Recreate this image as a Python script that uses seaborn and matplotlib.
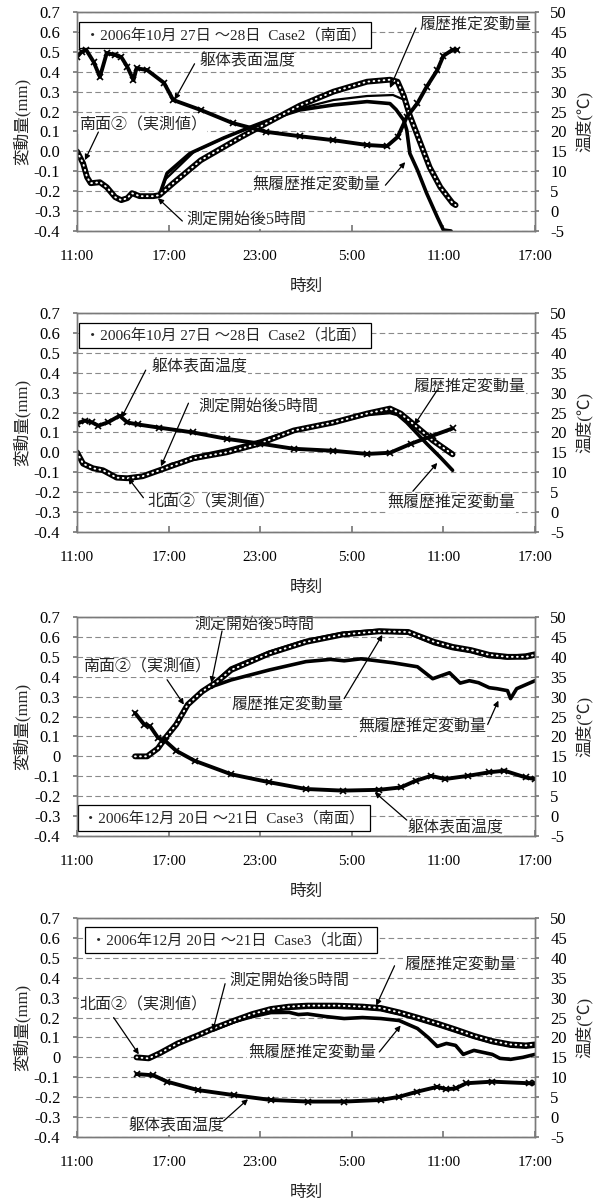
import numpy as np
import pandas as pd
import matplotlib
matplotlib.use("Agg")
import matplotlib.pyplot as plt
import seaborn as sns

sns.set_theme(style="white")
plt.rcParams['font.family'] = ['Liberation Serif', 'Noto Sans CJK JP', 'DejaVu Sans']
plt.rcParams['axes.unicode_minus'] = False

# ---------------- common axes data ----------------
X_TICKS = [0, 6, 12, 18, 24, 30]                       # hours after 11:00
X_TICK_LABELS = ["11:00", "17:00", "23:00", "5:00", "11:00", "17:00"]
Y_LEFT_TICKS = [0.7, 0.6, 0.5, 0.4, 0.3, 0.2, 0.1, 0.0, -0.1, -0.2, -0.3, -0.4]
Y_LEFT_LABELS_A = ["0.7", "0.6", "0.5", "0.4", "0.3", "0.2", "0.1", "0.0", "-0.1", "-0.2", "-0.3", "-0.4"]
Y_LEFT_LABELS_B = ["0.7", "0.6", "0.5", "0.4", "0.3", "0.2", "0.1", "0", "-0.1", "-0.2", "-0.3", "-0.4"]
Y_RIGHT_TICKS = [50, 45, 40, 35, 30, 25, 20, 15, 10, 5, 0, -5]
Y_RIGHT_LABELS = ["50", "45", "40", "35", "30", "25", "20", "15", "10", "5", "0", "-5"]

# ---------------- Panel 1 : 2006/10/27-28 Case2 south ----------------
p1_meas_h = [0, 0.4, 0.66, 0.9, 1.5, 1.95, 2.5, 2.9, 3.3, 3.6, 4.1, 5.0, 5.4, 6.3, 8.1, 10.7, 12.8,
             14.6, 16.8, 19.0, 20.5, 21.0, 21.4, 21.8, 22.5, 23.1, 23.8, 24.6, 24.8]
p1_meas_v = [0.0, -0.06, -0.13, -0.16, -0.155, -0.18, -0.23, -0.245, -0.235, -0.21, -0.225, -0.225, -0.22,
             -0.16, -0.045, 0.07, 0.157, 0.23, 0.30, 0.35, 0.36, 0.35, 0.28, 0.18, 0.04, -0.08, -0.18, -0.26, -0.27]
p1_hist_h = [5.4, 5.8, 7.7, 10.0, 12.5, 14.6, 16.8, 19.0, 20.7, 21.4, 22.0, 22.5, 23.1, 23.8, 24.6]
p1_hist_v = [-0.22, -0.14, 0.0, 0.08, 0.15, 0.215, 0.258, 0.278, 0.283, 0.26, 0.15, 0.04, -0.08, -0.18, -0.26]
p1_nohist_h = [5.4, 5.9, 7.4, 9.6, 11.3, 13.0, 14.6, 16.8, 19.0, 20.5, 20.9, 21.4, 21.6, 21.8, 22.3,
               22.9, 23.6, 24.0, 24.5]
p1_nohist_v = [-0.22, -0.11, -0.01, 0.067, 0.12, 0.17, 0.208, 0.233, 0.25, 0.24, 0.21, 0.157, 0.107, -0.01,
               -0.094, -0.21, -0.33, -0.395, -0.4]
p1_temp_h = [0, 0.3, 0.6, 1.1, 1.5, 1.95, 2.5, 2.9, 3.3, 3.7, 3.9, 4.6, 5.7, 6.3, 8.1, 10.2, 12.4, 14.6,
             16.8, 19.0, 20.3, 21.0, 21.6, 22.3, 22.9, 23.6, 24.0, 24.6, 24.9]
p1_temp_t = [38.7, 40.0, 40.5, 37.4, 33.7, 39.7, 39.2, 38.7, 36.2, 32.9, 35.9, 35.4, 32.2, 27.9, 25.4, 22.1,
             19.9, 18.8, 17.8, 16.6, 16.3, 18.6, 23.6, 27.1, 31.2, 35.4, 39.0, 40.5, 40.5]

# ---------------- Panel 2 : 2006/10/27-28 Case2 north ----------------
p2_meas_h = [0, 0.4, 1.05, 1.7, 2.6, 3.3, 4.3, 5.4, 7.6, 9.8, 12.0, 14.2, 16.8, 19.0, 20.5, 21.2, 22.3, 23.3, 24.6]
p2_meas_v = [0.0, -0.057, -0.08, -0.09, -0.127, -0.13, -0.12, -0.09, -0.03, 0.0, 0.045, 0.11, 0.15, 0.195,
             0.22, 0.195, 0.125, 0.06, -0.01]
p2_hist_h = [5.4, 7.6, 9.8, 12.0, 14.2, 16.8, 19.0, 20.5, 21.2, 22.3, 23.3, 24.6]
p2_hist_v = [-0.09, -0.02, 0.015, 0.06, 0.115, 0.155, 0.198, 0.215, 0.2, 0.13, 0.065, 0.0]
p2_nohist_h = [5.4, 6.2, 7.6, 9.8, 12.0, 14.2, 16.8, 19.0, 20.5, 21.0, 21.6, 22.9, 23.8, 24.6]
p2_nohist_v = [-0.09, -0.06, -0.035, 0.005, 0.05, 0.11, 0.15, 0.19, 0.2, 0.19, 0.15, 0.044, -0.025, -0.09]
p2_temp_h = [0, 0.5, 1.0, 1.4, 2.0, 2.8, 3.3, 4.0, 5.4, 7.6, 9.8, 12.0, 14.2, 16.8, 19.0, 20.5, 21.9, 23.3, 24.6]
p2_temp_t = [22.2, 23.0, 22.5, 21.7, 22.5, 24.2, 22.5, 22.0, 21.2, 20.0, 18.4, 17.2, 15.9, 15.4, 14.6, 14.9,
             17.2, 19.2, 21.0]

# ---------------- Panel 3 : 2006/12/20-21 Case3 south ----------------
p3_meas_h = [3.8, 4.6, 5.3, 5.8, 6.5, 7.25, 8.2, 9.2, 10.1, 12.6, 15.0, 17.4, 19.8, 21.7, 22.2, 23.4, 24.6,
             25.8, 27.0, 28.2, 29.4, 30.0]
p3_meas_v = [0.0, 0.0, 0.04, 0.094, 0.16, 0.26, 0.326, 0.376, 0.434, 0.517, 0.575, 0.612, 0.628, 0.625, 0.61,
             0.575, 0.55, 0.534, 0.51, 0.5, 0.5, 0.51]
p3_hist_h = [8.8, 10.1, 12.6, 15.0, 17.4, 19.8, 21.7, 23.4, 24.6, 25.8, 27.0, 28.2, 29.4, 30.0]
p3_hist_v = [0.35, 0.44, 0.52, 0.578, 0.615, 0.63, 0.623, 0.57, 0.545, 0.53, 0.505, 0.498, 0.505, 0.515]
p3_nohist_h = [8.8, 9.2, 10.1, 12.6, 15.0, 16.6, 17.5, 18.6, 20.7, 22.3, 23.3, 24.4, 25.1, 25.7, 26.3, 27.0,
               27.5, 28.2, 28.4, 28.8, 29.4, 30.0]
p3_nohist_v = [0.35, 0.36, 0.384, 0.434, 0.476, 0.487, 0.48, 0.49, 0.47, 0.45, 0.39, 0.42, 0.368, 0.38, 0.37,
               0.345, 0.34, 0.33, 0.29, 0.34, 0.36, 0.38]
p3_temp_h = [3.8, 4.4, 4.8, 5.3, 5.8, 6.5, 7.7, 10.1, 12.6, 15.0, 17.4, 19.8, 21.2, 22.2, 23.2, 24.1, 25.6,
             27.0, 28.0, 29.4, 30.0]
p3_temp_t = [25.9, 23.0, 22.5, 19.7, 18.8, 16.4, 13.9, 10.5, 8.5, 6.8, 6.4, 6.6, 7.2, 8.9, 10.1, 9.3, 10.1,
             11.0, 11.4, 9.7, 9.3]

# ---------------- Panel 4 : 2006/12/20-21 Case3 north ----------------
p4_meas_h = [3.9, 4.7, 5.4, 6.6, 7.9, 9.1, 10.3, 11.5, 12.7, 13.9, 15.1, 17.0, 18.7, 19.9, 21.1, 22.3, 23.6,
             24.8, 26.0, 27.2, 28.4, 29.4, 30.0]
p4_meas_v = [0.0, -0.005, 0.02, 0.07, 0.11, 0.15, 0.185, 0.218, 0.243, 0.255, 0.26, 0.26, 0.255, 0.248,
             0.226, 0.2, 0.17, 0.14, 0.108, 0.082, 0.065, 0.06, 0.065]
p4_hist_h = [8.9, 10.3, 11.5, 12.7, 13.9, 15.1, 17.0, 18.7, 19.9, 21.1, 22.3, 23.6, 24.8, 26.0, 27.2, 28.4,
             29.4, 30.0]
p4_hist_v = [0.14, 0.183, 0.215, 0.24, 0.25, 0.255, 0.255, 0.25, 0.243, 0.222, 0.195, 0.165, 0.135, 0.104,
             0.078, 0.06, 0.055, 0.06]
p4_nohist_h = [8.9, 10.3, 11.5, 12.7, 13.9, 14.5, 15.1, 16.3, 17.5, 18.7, 19.9, 21.1, 22.3, 23.0, 23.6,
               24.2, 24.8, 25.3, 26.0, 27.2, 27.7, 28.4, 29.2, 30.0]
p4_nohist_v = [0.14, 0.18, 0.205, 0.225, 0.226, 0.215, 0.218, 0.205, 0.195, 0.2, 0.195, 0.185, 0.145, 0.1,
               0.055, 0.07, 0.06, 0.015, 0.035, 0.015, -0.005, -0.01, 0.0, 0.015]
p4_temp_h = [3.9, 5.0, 5.9, 7.9, 10.3, 12.7, 15.1, 17.5, 19.9, 21.1, 22.3, 23.6, 24.2, 24.8, 25.5, 27.2,
             29.6, 30.0]
p4_temp_t = [10.8, 10.5, 8.9, 6.8, 5.5, 4.3, 3.9, 3.9, 4.3, 5.1, 6.4, 7.6, 7.0, 7.2, 8.5, 8.9, 8.5, 8.5]

# ---------------- texts ----------------
BOX_TEXTS = ["・2006年10月 27日 ～28日  Case2（南面）",
             "・2006年10月 27日 ～28日  Case2（北面）",
             "・2006年12月 20日 ～21日  Case3（南面）",
             "・2006年12月 20日 ～21日  Case3（北面）"]
LBL_TEMP = "躯体表面温度"
LBL_HIST = "履歴推定変動量"
LBL_NOHIST = "無履歴推定変動量"
LBL_5H = "測定開始後5時間"
LBL_MEAS_S = "南面②（実測値）"
LBL_MEAS_N = "北面②（実測値）"

# (text, text_pos(h,v), arrow tail(h,v), arrow tip(h,v))
ANNOTS = [
    [(LBL_TEMP, (11.2, 0.45), (7.7, 0.44), (6.4, 0.26)),
     (LBL_MEAS_S, (4.3, 0.132), (1.4, 0.097), (0.52, -0.044)),
     (LBL_HIST, (26.1, 0.635), (22.2, 0.62), (20.5, 0.318)),
     (LBL_NOHIST, (15.7, -0.17), (20.2, -0.17), (21.5, -0.054)),
     (LBL_5H, (11.1, -0.345), (6.9, -0.35), (5.3, -0.235))],
    [(LBL_TEMP, (8.0, 0.427), (4.5, 0.413), (2.9, 0.172)),
     (LBL_5H, (11.9, 0.227), (7.3, 0.247), (5.5, -0.07)),
     (LBL_MEAS_N, (8.8, -0.253), (4.35, -0.228), (3.35, -0.128)),
     (LBL_HIST, (25.7, 0.33), (23.6, 0.313), (22.1, 0.138)),
     (LBL_NOHIST, (24.5, -0.26), (22.0, -0.195), (23.6, -0.053))],
    [(LBL_5H, (11.6, 0.66), (9.5, 0.63), (8.8, 0.37)),
     (LBL_MEAS_S, (4.6, 0.445), (5.9, 0.385), (7.0, 0.26)),
     (LBL_HIST, (13.8, 0.26), (17.5, 0.29), (20.0, 0.61)),
     (LBL_NOHIST, (22.6, 0.143), (26.9, 0.16), (27.6, 0.28)),
     (LBL_TEMP, (24.8, -0.363), (21.6, -0.32), (19.5, -0.18))],
    [(LBL_HIST, (25.1, 0.467), (20.8, 0.46), (19.6, 0.26)),
     (LBL_5H, (13.9, 0.384), (9.7, 0.37), (8.9, 0.135)),
     (LBL_MEAS_N, (4.35, 0.26), (2.4, 0.2), (4.05, 0.015)),
     (LBL_NOHIST, (15.4, 0.019), (19.8, 0.027), (21.2, 0.16)),
     (LBL_TEMP, (6.5, -0.347), (9.6, -0.32), (11.2, -0.21))],
]
BOX_POS = [(0.5, 0.585), (0.5, 0.588), (0.4, -0.31), (0.9, 0.59)]

PANELS = [
    (p1_meas_h, p1_meas_v, p1_hist_h, p1_hist_v, p1_nohist_h, p1_nohist_v, p1_temp_h, p1_temp_t, Y_LEFT_LABELS_A),
    (p2_meas_h, p2_meas_v, p2_hist_h, p2_hist_v, p2_nohist_h, p2_nohist_v, p2_temp_h, p2_temp_t, Y_LEFT_LABELS_A),
    (p3_meas_h, p3_meas_v, p3_hist_h, p3_hist_v, p3_nohist_h, p3_nohist_v, p3_temp_h, p3_temp_t, Y_LEFT_LABELS_B),
    (p4_meas_h, p4_meas_v, p4_hist_h, p4_hist_v, p4_nohist_h, p4_nohist_v, p4_temp_h, p4_temp_t, Y_LEFT_LABELS_B),
]

# axes placement (figure fractions)
AX_LEFT = 77 / 596
AX_WIDTH = 458 / 596
AX_HEIGHT = 219 / 1200
AX_BOTTOMS = [1 - 231 / 1200, 1 - 532 / 1200, 1 - 836 / 1200, 1 - 1137 / 1200]

FRAME = '#7a7a7a'

fig = plt.figure(figsize=(5.96, 12.0), dpi=100)
fig.patch.set_facecolor('white')


def line(ax, h, v, **kw):
    df = pd.DataFrame({'h': h, 'v': v})
    sns.lineplot(data=df, x='h', y='v', ax=ax, estimator=None, sort=False, **kw)


for i, (mh, mv, hh, hv, nh, nv, th, tt, ylabels) in enumerate(PANELS):
    ax = fig.add_axes([AX_LEFT, AX_BOTTOMS[i], AX_WIDTH, AX_HEIGHT])
    ax2 = ax.twinx()

    # estimated curves
    line(ax, nh, nv, color='black', lw=2.6, solid_capstyle='round', solid_joinstyle='round')
    line(ax, hh, hv, color='black', lw=1.6 if i < 2 else 3.6, solid_capstyle='round')
    # measured (open circle look)
    line(ax, mh, mv, color='black', lw=4.2, solid_capstyle='round', solid_joinstyle='round')
    line(ax, mh, mv, color='white', lw=1.4, linestyle=(0, (0.4, 2.2)), dash_capstyle='round')
    # temperature on the right axis
    line(ax2, th, tt, color='black', lw=2.8, marker='x', markersize=5, markeredgewidth=1.2,
         markeredgecolor='black', solid_joinstyle='round')

    ax.set_xlim(0, 30)
    ax.set_ylim(-0.4, 0.7)
    ax2.set_ylim(-5, 50)
    ax.set_xticks(X_TICKS)
    ax.set_xticklabels(X_TICK_LABELS)
    ax.set_yticks(Y_LEFT_TICKS)
    ax.set_yticklabels(ylabels)
    ax2.set_yticks(Y_RIGHT_TICKS)
    ax2.set_yticklabels(Y_RIGHT_LABELS)

    ax.yaxis.grid(True, linestyle=(0, (5, 3)), color='#8a8a8a', lw=0.8)
    ax.xaxis.grid(False)
    ax2.grid(False)
    ax.set_axisbelow(True)

    for a in (ax, ax2):
        for s in a.spines.values():
            s.set_visible(True)
            s.set_color(FRAME)
            s.set_linewidth(1.0)

    ax.tick_params(axis='x', bottom=True, direction='in', length=4, pad=14, labelsize=11,
                   color=FRAME, labelcolor='black')
    ax.tick_params(axis='y', left=True, direction='out', length=3, pad=9, labelsize=12,
                   color=FRAME, labelcolor='black')
    ax2.tick_params(axis='y', right=True, direction='out', length=3, pad=8, labelsize=12,
                    color=FRAME, labelcolor='black')

    ax.set_xlabel("時刻", fontsize=12, labelpad=11)
    ax.set_ylabel("変動量(mm)", fontsize=12, labelpad=2)
    ax2.set_ylabel("温度(℃)", fontsize=12, labelpad=6)

    # legend-like title box
    bx, by = BOX_POS[i]
    ax.text(bx, by, BOX_TEXTS[i], ha='left', va='center', fontsize=11, zorder=10,
            bbox=dict(boxstyle='square,pad=0.35', fc='white', ec='black', lw=0.9))

    for txt, tpos, tail, tip in ANNOTS[i]:
        ax.text(tpos[0], tpos[1], txt, ha='center', va='center', fontsize=11.5, zorder=10,
                bbox=dict(boxstyle='square,pad=0.05', fc='white', ec='none'))
        ax.annotate('', xy=tip, xytext=tail, zorder=11,
                    arrowprops=dict(arrowstyle='-|>', color='black', lw=0.9, mutation_scale=8,
                                    shrinkA=0, shrinkB=0))

fig.savefig("out.png", dpi=100, facecolor='white')
